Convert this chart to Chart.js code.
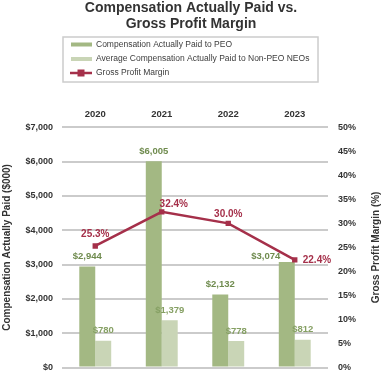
<!DOCTYPE html>
<html>
<head>
<meta charset="utf-8">
<script src="https://cdn.jsdelivr.net/npm/chart.js@4.4.1/dist/chart.umd.min.js"></script>
<style>
  html, body { margin: 0; padding: 0; background: #fff; }
  #wrap { width: 382px; height: 383px; }
</style>
</head>
<body>
<div id="wrap"><canvas id="chart" width="382" height="383"></canvas></div>
<script>
const years = ['2020', '2021', '2022', '2023'];
const peoPay = [2944, 6005, 2132, 3074];
const neoPay = [780, 1379, 778, 812];
const grossMargin = [25.3, 32.4, 30.0, 22.4];

const FONT = "'Liberation Sans', Arial, sans-serif";
const TEXT = '#333333';
const GREEN = '#a3b883';
const LIGHT = '#c9d5b6';
const RED = '#a5304a';
const LABEL_GREEN = '#6f8b4e';
const LABEL_LIGHT = '#86a064';

// value labels above bars and line points
const valueLabels = {
  id: 'valueLabels',
  afterDatasetsDraw(chart, args, opts) {
    const ctx = chart.ctx;
    ctx.save();
    ctx.textBaseline = 'middle';
    chart.data.datasets.forEach((ds, i) => {
      const meta = chart.getDatasetMeta(i);
      const shifts = opts.shifts[i] || {};
      meta.data.forEach((el, j) => {
        const v = ds.data[j];
        const s = shifts[j] || {};
        ctx.textAlign = s.align || 'center';
        if (ds.type === 'line') {
          ctx.font = 'bold 10px ' + FONT;
          ctx.fillStyle = RED;
          ctx.fillText(v.toFixed(1) + '%', el.x + (s.dx || 0), el.y + (s.dy !== undefined ? s.dy : -11));
        } else {
          ctx.font = 'bold 9.5px ' + FONT;
          ctx.fillStyle = i === 0 ? LABEL_GREEN : LABEL_LIGHT;
          ctx.fillText('$' + v.toLocaleString('en-US'), el.x + (s.dx || 0), el.y + (s.dy !== undefined ? s.dy : -10));
        }
      });
    });
    ctx.restore();
  }
};

// boxed legend and right axis title
const extras = {
  id: 'extras',
  afterDraw(chart) {
    const ctx = chart.ctx;
    ctx.save();
    ctx.strokeStyle = '#cccccc';
    ctx.lineWidth = 1.5;
    ctx.strokeRect(63, 37, 255, 45);
    ctx.font = '8.5px ' + FONT;
    ctx.textBaseline = 'middle';
    ctx.textAlign = 'left';
    const rows = [44.5, 59, 73];
    chart.data.datasets.forEach((ds, i) => {
      const y = rows[i];
      if (ds.type === 'line') {
        ctx.strokeStyle = ds.borderColor;
        ctx.lineWidth = 2.5;
        ctx.beginPath();
        ctx.moveTo(70, y);
        ctx.lineTo(92, y);
        ctx.stroke();
        ctx.fillStyle = ds.borderColor;
        ctx.fillRect(77.5, y - 3.5, 7, 7);
      } else {
        ctx.fillStyle = ds.backgroundColor;
        ctx.fillRect(71, y - 2, 21, 4);
      }
      ctx.fillStyle = '#3c3c3c';
      ctx.fillText(ds.label, 96, y);
    });
    const a = chart.chartArea;
    ctx.translate(376, (a.top + a.bottom) / 2);
    ctx.rotate(-Math.PI / 2);
    ctx.textAlign = 'center';
    ctx.font = 'bold 10px ' + FONT;
    ctx.fillStyle = TEXT;
    ctx.fillText('Gross Profit Margin (%)', 0, 0);
    ctx.restore();
  }
};

new Chart(document.getElementById('chart'), {
  data: {
    labels: years,
    datasets: [
      {
        type: 'bar',
        label: 'Compensation Actually Paid to PEO',
        data: peoPay,
        backgroundColor: GREEN,
        yAxisID: 'y',
        order: 2
      },
      {
        type: 'bar',
        label: 'Average Compensation Actually Paid to Non-PEO NEOs',
        data: neoPay,
        backgroundColor: LIGHT,
        yAxisID: 'y',
        order: 2
      },
      {
        type: 'line',
        label: 'Gross Profit Margin',
        data: grossMargin,
        borderColor: RED,
        backgroundColor: RED,
        borderWidth: 2.5,
        pointStyle: 'rect',
        pointRadius: 3.8,
        pointBackgroundColor: RED,
        pointBorderWidth: 0,
        yAxisID: 'y1',
        order: 0
      }
    ]
  },
  options: {
    responsive: false,
    animation: false,
    layout: { padding: { top: 0, bottom: 7, left: 0, right: 0 } },
    datasets: {
      bar: { categoryPercentage: 0.48, barPercentage: 1 }
    },
    plugins: {
      legend: { display: false },
      tooltip: { enabled: false },
      title: {
        display: true,
        text: ['Compensation Actually Paid vs.', 'Gross Profit Margin'],
        color: TEXT,
        font: { family: FONT, size: 14, weight: 'bold', lineHeight: 1.15 },
        padding: { top: 0, bottom: 73 }
      },
      valueLabels: {
        shifts: {
          0: { 3: { dx: -21, dy: -6 } },
          2: { 0: { dy: -12 }, 1: { dx: 12, dy: -8 }, 2: { dy: -9 }, 3: { dx: 8, dy: 0, align: 'left' } }
        }
      }
    },
    scales: {
      x: {
        position: 'top',
        grid: { display: false, drawTicks: false },
        border: { display: false },
        ticks: { color: TEXT, font: { family: FONT, size: 9.5, weight: 'bold' }, padding: 7 },
        afterFit(scale) { scale.height = 22; }
      },
      y: {
        position: 'left',
        min: 0,
        max: 7000,
        grid: { color: '#cbcbcb', lineWidth: 2, drawTicks: false },
        border: { display: false },
        ticks: {
          stepSize: 1000,
          padding: 9,
          color: TEXT,
          font: { family: FONT, size: 9, weight: 'bold' },
          callback: v => '$' + v.toLocaleString('en-US')
        },
        title: {
          display: true,
          text: 'Compensation Actually Paid ($000)',
          color: TEXT,
          font: { family: FONT, size: 10, weight: 'bold' },
          padding: 1
        },
        afterFit(scale) { scale.width = 62; }
      },
      y1: {
        position: 'right',
        min: 0,
        max: 50,
        grid: { display: false, drawTicks: false },
        border: { display: false },
        ticks: {
          stepSize: 5,
          padding: 10,
          color: TEXT,
          font: { family: FONT, size: 9, weight: 'bold' },
          callback: v => v + '%'
        },
        afterFit(scale) { scale.width = 54; }
      }
    }
  },
  plugins: [valueLabels, extras]
});
</script>
</body>
</html>
